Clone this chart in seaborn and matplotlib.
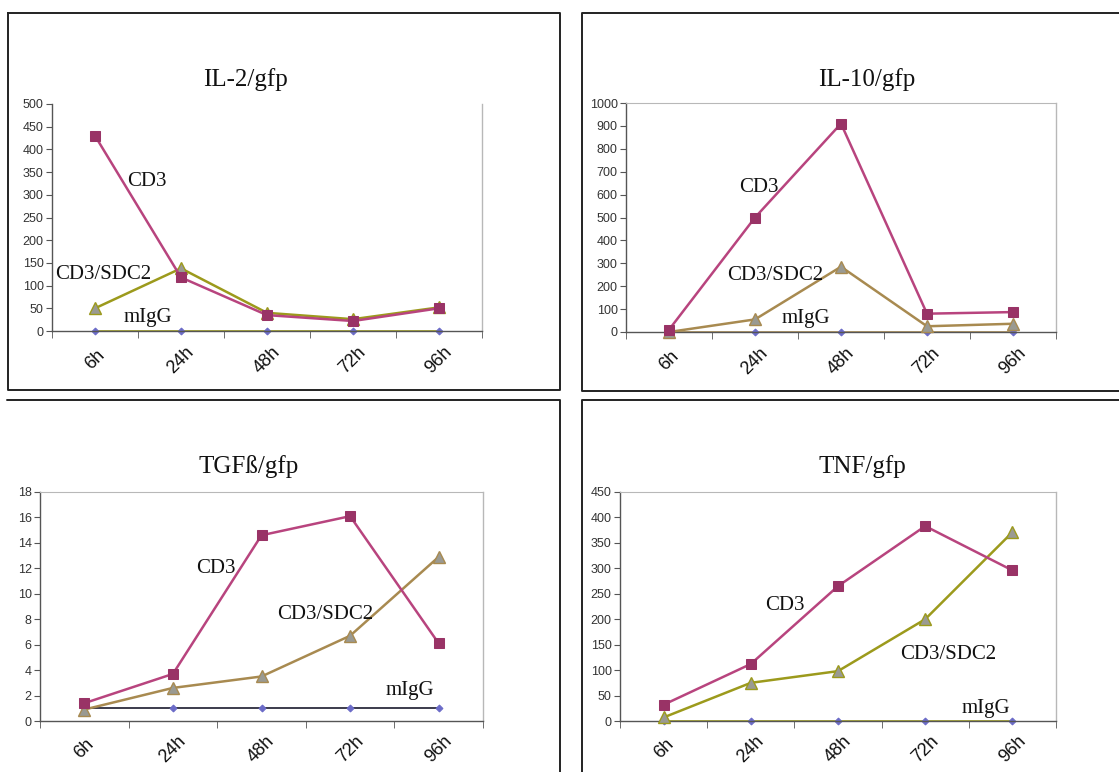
import numpy as np
import pandas as pd
import matplotlib
matplotlib.use("Agg")
import matplotlib.pyplot as plt
from matplotlib.lines import Line2D
import seaborn as sns

# time points shared by all four panels
times = ["6h", "24h", "48h", "72h", "96h"]

il2_cd3 = [430, 118, 35, 22, 50]
il2_sdc2 = [50, 138, 40, 26, 52]
il2_migg = [0, 0, 0, 0, 0]

il10_cd3 = [10, 500, 910, 80, 87]
il10_sdc2 = [0, 55, 285, 25, 36]
il10_migg = [0, 0, 0, 0, 0]

tgf_cd3 = [1.4, 3.7, 14.6, 16.1, 6.1]
tgf_sdc2 = [0.9, 2.6, 3.5, 6.7, 12.9]
tgf_migg = [1, 1, 1, 1, 1]

tnf_cd3 = [32, 112, 265, 383, 296]
tnf_sdc2 = [7, 75, 98, 200, 371]
tnf_migg = [0, 0, 0, 0, 0]

W, H = 1119, 772

sns.set_style("white")
plt.rcParams["font.family"] = ["Liberation Sans", "DejaVu Sans"]

fig = plt.figure(figsize=(W / 100, H / 100), dpi=100)


def px_axes(left, top, right, bottom):
    return fig.add_axes([left / W, 1 - bottom / H, (right - left) / W, (bottom - top) / H])


def fig_line(xs, ys, color="#222222", lw=1.4):
    fig.add_artist(Line2D([x / W for x in xs], [1 - y / H for y in ys],
                          transform=fig.transFigure, color=color, lw=lw))


panels = [
    dict(title="IL-2/gfp", cd3=il2_cd3, sdc2=il2_sdc2, migg=il2_migg,
         ylim=500, step=50, box=(52, 104, 482, 331), tpos=(245, 80), pad=21,
         sdc_col="#9C9A1C", migg_line="#9C9A1C", top_spine=False,
         labels=[("CD3", 0.6, 330), ("CD3/SDC2", 0.09, 125), ("mIgG", 0.61, 29)]),
    dict(title="IL-10/gfp", cd3=il10_cd3, sdc2=il10_sdc2, migg=il10_migg,
         ylim=1000, step=100, box=(626, 103, 1056, 332), tpos=(867, 80), pad=21,
         sdc_col="#A88A50", migg_line="#A88A50", top_spine=True,
         labels=[("CD3", 1.05, 629), ("CD3/SDC2", 1.23, 245), ("mIgG", 1.59, 57)]),
    dict(title="TGF\u00df/gfp", cd3=tgf_cd3, sdc2=tgf_sdc2, migg=tgf_migg,
         ylim=18, step=2, box=(40, 492, 483, 721), tpos=(249, 467), pad=20,
         sdc_col="#A88A50", migg_line="#1a1a2e", top_spine=True,
         labels=[("CD3", 1.49, 12.0), ("CD3/SDC2", 2.72, 8.4), ("mIgG", 3.68, 2.4)]),
    dict(title="TNF/gfp", cd3=tnf_cd3, sdc2=tnf_sdc2, migg=tnf_migg,
         ylim=450, step=50, box=(620, 492, 1056, 721), tpos=(862, 467), pad=20,
         sdc_col="#9C9A1C", migg_line="#9C9A1C", top_spine=True,
         labels=[("CD3", 1.39, 226), ("CD3/SDC2", 3.26, 130), ("mIgG", 3.70, 24)]),
]

for p in panels:
    ax = px_axes(*p["box"])
    df = pd.DataFrame({"time": times, "CD3": p["cd3"], "CD3/SDC2": p["sdc2"], "mIgG": p["migg"]})

    sns.lineplot(data=df, x="time", y="mIgG", ax=ax, sort=False, color=p["migg_line"],
                 lw=1.2, marker="D", markersize=3.5, markerfacecolor="#6B6BC8",
                 markeredgecolor="#6B6BC8", zorder=2, clip_on=False)
    sns.lineplot(data=df, x="time", y="CD3/SDC2", ax=ax, sort=False, color=p["sdc_col"],
                 lw=1.8, marker="^", markersize=9, markerfacecolor="#9A9A92",
                 markeredgecolor=p["sdc_col"], markeredgewidth=1.0, zorder=3, clip_on=False)
    sns.lineplot(data=df, x="time", y="CD3", ax=ax, sort=False, color="#B8447E",
                 lw=1.8, marker="s", markersize=7.5, markerfacecolor="#993366",
                 markeredgecolor="#993366", zorder=4, clip_on=False)

    ax.set_xlim(-0.5, len(times) - 0.5)
    ax.set_ylim(0, p["ylim"])
    ax.set_yticks(np.arange(0, p["ylim"] + p["step"] / 2, p["step"]))
    ax.set_xticks(range(len(times)))
    ax.set_xticklabels(times, rotation=45, ha="center", va="center", rotation_mode="anchor",
                       fontsize=13, color="#111111")
    ax.set_xticks(np.arange(-0.5, len(times), 1.0), minor=True)
    ax.tick_params(axis="x", which="major", length=0, pad=p["pad"])
    ax.tick_params(axis="x", which="minor", length=5, direction="out", color="#555555", bottom=True)
    ax.tick_params(axis="y", length=4, direction="out", color="#555555", labelsize=9,
                   labelcolor="#333333", left=True, pad=2)
    ax.set_xlabel("")
    ax.set_ylabel("")

    for side in ["left", "bottom"]:
        ax.spines[side].set_color("#555555")
        ax.spines[side].set_linewidth(1.0)
    ax.spines["right"].set_color("#B8B8B8")
    ax.spines["right"].set_linewidth(1.0)
    ax.spines["top"].set_color("#B8B8B8")
    ax.spines["top"].set_visible(p["top_spine"])

    for text, x, y in p["labels"]:
        ax.text(x, y, text, ha="center", va="center", fontsize=15,
                family=["Liberation Serif", "DejaVu Serif"], color="#111111", zorder=5)

    tx, ty = p["tpos"]
    fig.text(tx / W, 1 - ty / H, p["title"], ha="center", va="center", fontsize=18,
             family=["Liberation Serif", "DejaVu Serif"], color="#111111")

# panel frames
fig_line([8, 560, 560, 8, 8], [13, 13, 390, 390, 13])
fig_line([1119, 582, 582, 1119], [13, 13, 391, 391])
fig_line([7, 560, 560], [400, 400, 772])
fig_line([1119, 582, 582], [400, 400, 772])

fig.savefig("out.png", dpi=100)
